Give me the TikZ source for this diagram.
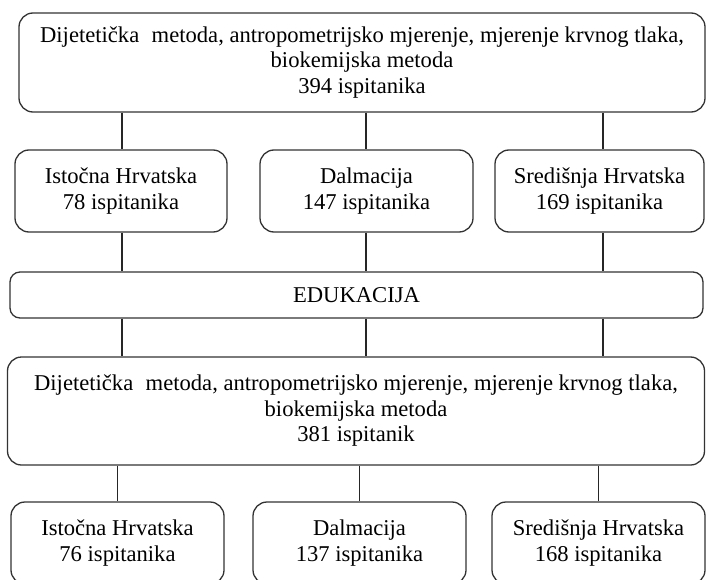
\documentclass[tikz,border=0pt]{standalone}
\usepackage{fontspec}
\setmainfont{Liberation Serif}
\begin{document}
\begin{tikzpicture}[x=1pt,y=-1pt,
  box/.style={draw=black!80, line width=1.3pt, rounded corners=14pt, inner sep=0pt, align=center,
    font=\fontsize{22.6}{25.5}\selectfont},
  conn/.style={draw=black!85, line width=1.4pt}]
\useasboundingbox (0,0) rectangle (706,580);
\node[box, minimum width=686pt, minimum height=99pt] (top) at (362,62.5)
  {Dijetetička\hspace{0.3em} metoda, antropometrijsko mjerenje, mjerenje krvnog tlaka,\\ biokemijska metoda\\ 394 ispitanika};
\node[box, minimum width=212pt, minimum height=82pt] (a1) at (121,191) {Istočna Hrvatska\\ 78 ispitanika};
\node[box, minimum width=213pt, minimum height=82pt] (a2) at (366.5,191) {Dalmacija\\ 147 ispitanika};
\node[box, minimum width=209pt, minimum height=82pt] (a3) at (599.5,191) {Središnja Hrvatska\\ 169 ispitanika};
\node[box, minimum width=693pt, minimum height=46pt, rounded corners=10pt] (edu) at (356.5,295) {EDUKACIJA};
\node[box, minimum width=697pt, minimum height=108pt] (mid) at (356,411)
  {Dijetetička\hspace{0.3em} metoda, antropometrijsko mjerenje, mjerenje krvnog tlaka,\\ biokemijska metoda\\ 381 ispitanik};
\node[box, minimum width=213pt, minimum height=82pt] (b1) at (117.5,543) {Istočna Hrvatska\\ 76 ispitanika};
\node[box, minimum width=213pt, minimum height=82pt] (b2) at (359.5,543) {Dalmacija\\ 137 ispitanika};
\node[box, minimum width=213pt, minimum height=82pt] (b3) at (598.5,543) {Središnja Hrvatska\\ 168 ispitanika};
\coordinate (c1) at (122,0);
\coordinate (c2) at (366,0);
\coordinate (c3) at (603,0);
\foreach \c/\a in {c1/a1,c2/a2,c3/a3}{
  \draw[conn] (top.south -| \c) -- (\a.north -| \c);
  \draw[conn] (\a.south -| \c) -- (edu.north -| \c);
  \draw[conn] (edu.south -| \c) -- (mid.north -| \c);
}
\foreach \b in {b1,b2,b3}{
  \draw[conn] (mid.south -| \b) -- (\b.north);
}
\end{tikzpicture}
\end{document}
